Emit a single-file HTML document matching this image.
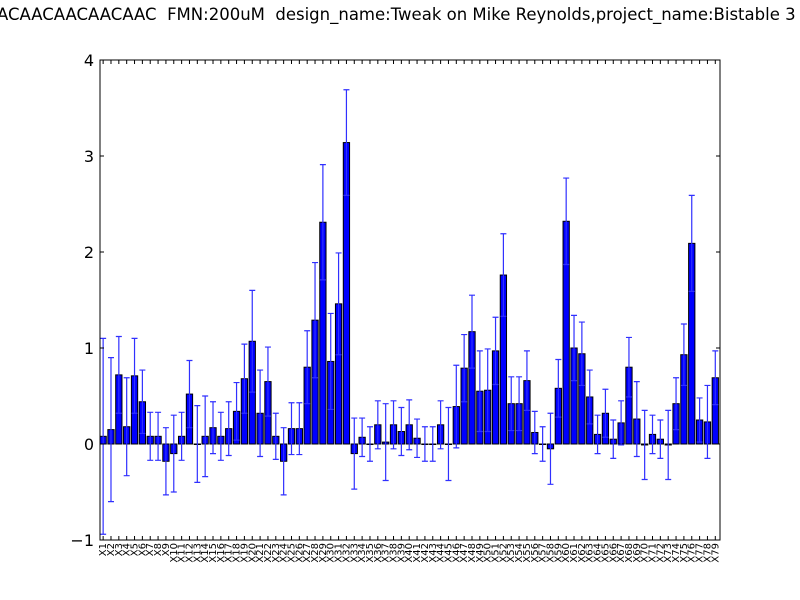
<!DOCTYPE html>
<html><head><meta charset="utf-8"><style>
html,body{margin:0;padding:0;background:#fff;width:800px;height:600px;overflow:hidden}
svg{display:block;font-family:"DejaVu Sans","Liberation Sans",sans-serif}
</style></head><body>
<svg id="chart" width="800" height="600" viewBox="0 0 800 600">
<rect x="0" y="0" width="800" height="600" fill="#fff"/>
<text x="-3" y="20" font-size="16.5" fill="#000" style="white-space:pre">ACAACAACAACAAC  FMN:200uM  design_name:Tweak on Mike Reynolds,project_name:Bistable 3</text>
<g id="plot"></g>
</svg>
<script>
const categories = Array.from({length:79},(_,i)=>'X'+(i+1));
const values = [0.08,0.15,0.72,0.18,0.71,0.44,0.08,0.08,-0.18,-0.1,0.08,0.52,0.0,0.08,0.17,0.08,0.16,0.34,0.68,1.07,0.32,0.65,0.08,-0.18,0.16,0.16,0.8,1.29,2.31,0.86,1.46,3.14,-0.1,0.07,0.0,0.2,0.02,0.2,0.13,0.2,0.06,0.0,0.0,0.2,0.0,0.39,0.79,1.17,0.55,0.56,0.97,1.76,0.42,0.42,0.66,0.12,0.0,-0.05,0.58,2.32,1.0,0.94,0.49,0.1,0.32,0.05,0.22,0.8,0.26,-0.01,0.1,0.05,-0.01,0.42,0.93,2.09,0.25,0.23,0.69];
const errors = [1.02,0.75,0.4,0.51,0.39,0.33,0.25,0.25,0.35,0.4,0.25,0.35,0.4,0.42,0.27,0.25,0.28,0.3,0.36,0.53,0.45,0.36,0.24,0.35,0.27,0.27,0.38,0.6,0.6,0.5,0.53,0.55,0.37,0.2,0.18,0.25,0.4,0.25,0.25,0.26,0.2,0.18,0.18,0.25,0.38,0.43,0.35,0.38,0.42,0.43,0.35,0.43,0.28,0.28,0.31,0.22,0.18,0.37,0.3,0.45,0.34,0.33,0.28,0.2,0.25,0.2,0.23,0.31,0.39,0.36,0.2,0.2,0.36,0.27,0.32,0.5,0.23,0.38,0.28];
const yTicks = [-1,0,1,2,3,4];
const yTickLabels = ['\u22121','0','1','2','3','4'];

const L=100,R=720,T=60,B=540,yMin=-1,yMax=4;
const n=categories.length;
const slot=(R-L)/n;
const xs=i=>L+i*slot;
const ys=v=>B-(v-yMin)/(yMax-yMin)*(B-T);
const NS='http://www.w3.org/2000/svg';
const g=document.getElementById('plot');
function mk(tag,attrs,parent){const e=document.createElementNS(NS,tag);for(const k in attrs)e.setAttribute(k,attrs[k]);(parent||g).appendChild(e);return e;}

const bars=mk('g',{});


const errs=mk('g',{});


for(let i=0;i<n;i++){
  const v=values[i],x=xs(i),w=slot*0.8;
  const y0=ys(0),y1=ys(v);
  const r=mk('rect',{x:x,y:Math.min(y0,y1),width:w,height:Math.max(Math.abs(y1-y0),0.5),fill:'#0000ff',stroke:'#000','stroke-width':1},bars);
  
  
  const cx=x+w/2,et=ys(v+errors[i]),eb=ys(v-errors[i]);
  const e=mk('path',{d:`M${cx},${et}V${eb}M${cx-3},${et}H${cx+3}M${cx-3},${eb}H${cx+3}`,stroke:'#3030ff','stroke-width':1.2,fill:'none'},errs);
  
  
}
const frame=mk('rect',{x:L,y:T,width:R-L,height:B-T,fill:'none',stroke:'#000','stroke-width':1});



const yax=mk('g',{});


yTicks.forEach((t,k)=>{
  const y=ys(t);
  mk('path',{d:`M${L},${y}h4M${R},${y}h-4`,stroke:'#000','stroke-width':1},yax);
  const lb=mk('text',{x:L-6,y:y+6,'text-anchor':'end','font-size':16,fill:'#000'},yax);
  lb.textContent=yTickLabels[k];
  
  
});
const xax=mk('g',{});


for(let i=0;i<n;i++){
  const cx=xs(i)+slot*0.4;
  mk('path',{d:`M${cx},${B}v-4M${cx},${T}v4`,stroke:'#000','stroke-width':1},xax);
  const lb=mk('text',{transform:`translate(${cx+3},${B+3}) rotate(-90)`,'text-anchor':'end','font-size':10,fill:'#000'},xax);
  lb.textContent=categories[i];
  
  
}
</script>
</body></html>
